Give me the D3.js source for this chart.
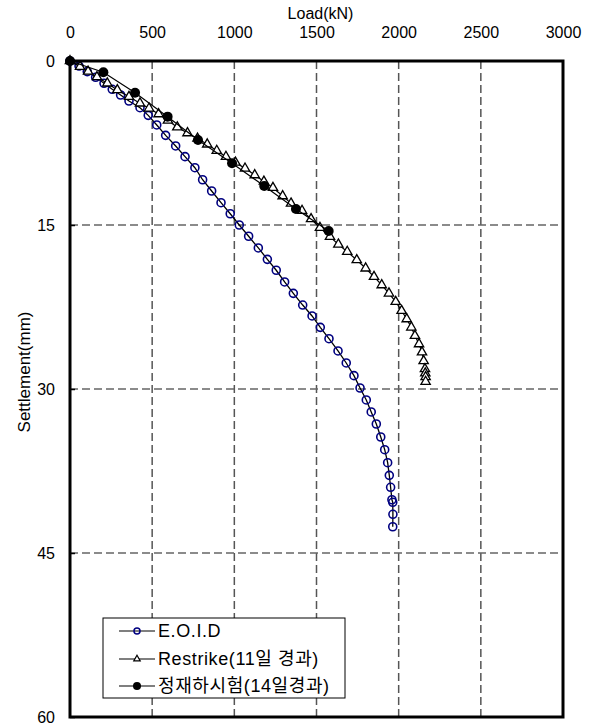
<!DOCTYPE html>
<html>
<head>
<meta charset="utf-8">
<script src="https://cdn.jsdelivr.net/npm/d3@7"></script>
<style>
  body { margin: 0; background: #fff; }
  svg { display: block; }
</style>
</head>
<body>
<div id="chart"></div>
<script>
// load (kN) and settlement (mm)
const eoidLoad = [0, 55, 105, 156, 207, 257, 308, 359, 426, 476, 528, 582, 643, 700, 760, 807, 862, 919, 975, 1030,
    1087, 1146, 1201, 1255, 1306, 1359, 1416, 1473, 1523, 1576, 1631, 1681, 1728, 1765, 1803, 1833, 1864, 1891,
    1915, 1933, 1943, 1951, 1959, 1964, 1965, 1964];
const eoidSettle = [0, 0.46, 0.97, 1.49, 2.04, 2.59, 3.11, 3.66, 4.27, 4.97, 5.85, 6.80, 7.77, 8.75, 9.76, 10.86,
    11.89, 12.96, 13.97, 15.0, 16.03, 17.10, 18.14, 19.14, 20.21, 21.25, 22.32, 23.32, 24.36, 25.40, 26.52, 27.62,
    28.78, 29.91, 31.0, 32.1, 33.2, 34.39, 35.55, 36.74, 37.9, 38.99, 40.13, 40.36, 41.46, 42.6];

const restrikeLoad = [0, 61, 110, 164, 227, 288, 359, 426, 481, 539, 596, 653, 715, 776, 835, 893, 949, 1007, 1065,
    1124, 1180, 1235, 1294, 1345, 1412, 1467, 1521, 1582, 1633, 1687, 1745, 1799, 1850, 1897, 1941, 1982, 2018,
    2049, 2077, 2099, 2124, 2142, 2152, 2160, 2162, 2164, 2164];
const restrikeSettle = [0, 0.52, 0.96, 1.46, 2.04, 2.65, 3.27, 3.87, 4.33, 4.85, 5.44, 6.06, 6.59, 7.09, 7.62, 8.20,
    8.75, 9.28, 9.82, 10.43, 11.02, 11.59, 12.35, 13.02, 13.69, 14.45, 15.25, 16.07, 16.77, 17.44, 18.20, 18.96,
    19.73, 20.49, 21.25, 22.02, 22.84, 23.60, 24.36, 25.13, 25.89, 26.64, 27.44, 28.17, 28.56, 28.90, 29.33];

const staticLoad = [0, 203, 396, 594, 779, 986, 1182, 1375, 1574];
const staticSettle = [0, 1.03, 2.90, 5.09, 7.23, 9.36, 11.43, 13.54, 15.55];

const xTicks = [0, 500, 1000, 1500, 2000, 2500, 3000];
const yTicks = [0, 15, 30, 45, 60];
const seriesNames = ["E.O.I.D", "Restrike(11일 경과)", "정재하시험(14일경과)"];

const width = 596, height = 728;
const plot = { left: 70, right: 563, top: 61, bottom: 717 };
const font = "'Liberation Sans', Arial, 'Noto Sans CJK KR', sans-serif";
const blue = "#000080";

const x = d3.scaleLinear().domain([0, 3000]).range([plot.left, plot.right]);
const y = d3.scaleLinear().domain([0, 60]).range([plot.top, plot.bottom]);

const svg = d3.select("#chart").append("svg")
    .attr("width", width)
    .attr("height", height)
    .style("font-family", font);

// dashed grid
svg.append("g").selectAll("line")
    .data(xTicks.slice(1, -1)).enter()
    .append("line")
    .attr("x1", d => x(d)).attr("x2", d => x(d))
    .attr("y1", plot.top).attr("y2", plot.bottom)
    .attr("stroke", "#555").attr("stroke-width", 1.5)
    .attr("stroke-dasharray", "8,4");
svg.append("g").selectAll("line")
    .data(yTicks.slice(1, -1)).enter()
    .append("line")
    .attr("x1", plot.left).attr("x2", plot.right)
    .attr("y1", d => y(d)).attr("y2", d => y(d))
    .attr("stroke", "#666").attr("stroke-width", 1.5)
    .attr("stroke-dasharray", "8,4");

const line = d3.line().x(d => x(d[0])).y(d => y(d[1]));
const eoid = d3.zip(eoidLoad, eoidSettle);
const restrike = d3.zip(restrikeLoad, restrikeSettle);
const stat = d3.zip(staticLoad, staticSettle);

const tri = d3.symbol().type(d3.symbolTriangle).size(38);

// E.O.I.D
svg.append("path").attr("d", line(eoid))
    .attr("fill", "none").attr("stroke", "#000").attr("stroke-width", 1.3);
svg.append("g").selectAll("circle")
    .data(eoid).enter()
    .append("circle")
    .attr("cx", d => x(d[0])).attr("cy", d => y(d[1]))
    .attr("r", 4)
    .attr("fill", "none").attr("stroke", blue).attr("stroke-width", 1.6);

// Restrike
svg.append("path").attr("d", line(restrike))
    .attr("fill", "none").attr("stroke", "#000").attr("stroke-width", 1.2);
svg.append("g").selectAll("path")
    .data(restrike).enter()
    .append("path")
    .attr("d", tri)
    .attr("transform", d => "translate(" + x(d[0]) + "," + y(d[1]) + ")")
    .attr("fill", "#fff").attr("stroke", "#000").attr("stroke-width", 1.3);

// static load test
svg.append("path").attr("d", line(stat))
    .attr("fill", "none").attr("stroke", "#000").attr("stroke-width", 1.2);
svg.append("g").selectAll("circle")
    .data(stat).enter()
    .append("circle")
    .attr("cx", d => x(d[0])).attr("cy", d => y(d[1]))
    .attr("r", 5)
    .attr("fill", "#000");

// frame
svg.append("rect")
    .attr("x", plot.left).attr("y", plot.top)
    .attr("width", plot.right - plot.left).attr("height", plot.bottom - plot.top)
    .attr("fill", "none").attr("stroke", "#000").attr("stroke-width", 3);

// axes
const xAxis = svg.append("g")
    .attr("transform", "translate(0," + plot.top + ")")
    .call(d3.axisTop(x).tickValues(xTicks).tickFormat(d3.format("d")).tickSize(0).tickPadding(23));
const yAxis = svg.append("g")
    .attr("transform", "translate(" + plot.left + ",0)")
    .call(d3.axisLeft(y).tickValues(yTicks).tickFormat(d3.format("d"))
        .tickSizeInner(-5).tickSizeOuter(0).tickPadding(15));
[xAxis, yAxis].forEach(a => {
    a.select(".domain").remove();
    a.attr("font-family", font).attr("font-size", 16);
    a.selectAll("text").attr("fill", "#000");
});
yAxis.selectAll(".tick line").attr("stroke", "#000").attr("stroke-width", 1.5);

svg.append("text")
    .attr("x", (plot.left + plot.right) / 2 + 4)
    .attr("y", 19)
    .attr("text-anchor", "middle")
    .attr("font-size", 16)
    .text("Load(kN)");
svg.append("text")
    .attr("transform", "translate(24," + 372 + ") rotate(-90)")
    .attr("text-anchor", "middle")
    .attr("dominant-baseline", "central")
    .attr("font-size", 17)
    .text("Settlement(mm)");

// legend
const legend = svg.append("g");
legend.append("rect")
    .attr("x", 103).attr("y", 618)
    .attr("width", 242).attr("height", 80)
    .attr("fill", "#fff").attr("stroke", "#000").attr("stroke-width", 1);
const rowY = [631, 659, 686];
const items = legend.selectAll(".item")
    .data(seriesNames).enter()
    .append("g")
    .attr("class", "item")
    .attr("transform", (d, i) => "translate(0," + rowY[i] + ")");
items.append("line")
    .attr("x1", 119).attr("x2", 155)
    .attr("stroke", "#000").attr("stroke-width", 1.2);
items.each(function (d, i) {
    const g = d3.select(this);
    if (i === 0) {
        g.append("circle").attr("cx", 137).attr("r", 3)
            .attr("fill", "none").attr("stroke", blue).attr("stroke-width", 1.5);
    } else if (i === 1) {
        g.append("path").attr("d", d3.symbol().type(d3.symbolTriangle).size(18))
            .attr("transform", "translate(137,0)")
            .attr("fill", "#fff").attr("stroke", "#000").attr("stroke-width", 1.2);
    } else {
        g.append("circle").attr("cx", 137).attr("r", 4).attr("fill", "#000");
    }
});
items.append("text")
    .attr("x", 158)
    .attr("dominant-baseline", "central")
    .attr("font-size", 18)
    .attr("letter-spacing", 0.6)
    .text(d => d);
</script>
</body>
</html>
